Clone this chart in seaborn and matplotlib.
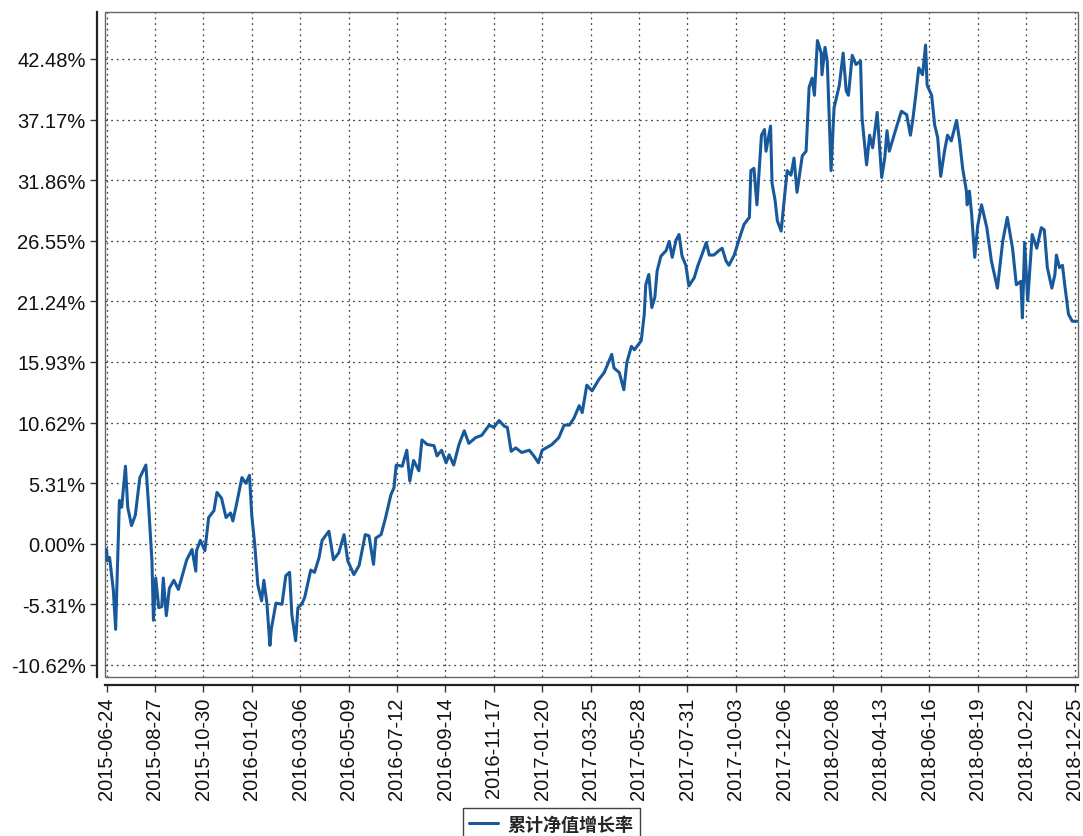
import numpy as np
import pandas as pd
import seaborn as sns
import matplotlib.pyplot as plt

# cumulative NAV growth (%)
dates = [
    "2015-06-24", "2015-06-25", "2015-06-28", "2015-07-03", "2015-07-06", "2015-07-09",
    "2015-07-11", "2015-07-14", "2015-07-19", "2015-07-22", "2015-07-27", "2015-08-01",
    "2015-08-07", "2015-08-15", "2015-08-19", "2015-08-23", "2015-08-25", "2015-08-28",
    "2015-09-01", "2015-09-05", "2015-09-07", "2015-09-11", "2015-09-15", "2015-09-21",
    "2015-09-27", "2015-10-08", "2015-10-15", "2015-10-20", "2015-10-21", "2015-10-26",
    "2015-11-01", "2015-11-06", "2015-11-13", "2015-11-17", "2015-11-23", "2015-11-29",
    "2015-12-05", "2015-12-08", "2015-12-12", "2015-12-20", "2015-12-25", "2015-12-30",
    "2016-01-02", "2016-01-06", "2016-01-10", "2016-01-15", "2016-01-18", "2016-01-22",
    "2016-01-26", "2016-01-28", "2016-02-03", "2016-02-11", "2016-02-16", "2016-02-21",
    "2016-02-24", "2016-02-29", "2016-03-03", "2016-03-08", "2016-03-12", "2016-03-20",
    "2016-03-25", "2016-03-31", "2016-04-04", "2016-04-13", "2016-04-19", "2016-04-26",
    "2016-05-03", "2016-05-08", "2016-05-16", "2016-05-23", "2016-05-31", "2016-06-05",
    "2016-06-11", "2016-06-14", "2016-06-21", "2016-06-27", "2016-07-04", "2016-07-08",
    "2016-07-11", "2016-07-19", "2016-07-25", "2016-07-29", "2016-08-03", "2016-08-10",
    "2016-08-14", "2016-08-21", "2016-08-30", "2016-09-03", "2016-09-09", "2016-09-15",
    "2016-09-19", "2016-09-25", "2016-10-02", "2016-10-09", "2016-10-15", "2016-10-24",
    "2016-11-01", "2016-11-11", "2016-11-17", "2016-11-24", "2016-12-01", "2016-12-05",
    "2016-12-10", "2016-12-16", "2016-12-24", "2017-01-03", "2017-01-09", "2017-01-15",
    "2017-01-20", "2017-02-02", "2017-02-11", "2017-02-18", "2017-02-25", "2017-03-03",
    "2017-03-10", "2017-03-14", "2017-03-20", "2017-03-27", "2017-04-05", "2017-04-12",
    "2017-04-19", "2017-04-22", "2017-04-25", "2017-05-02", "2017-05-08", "2017-05-12",
    "2017-05-18", "2017-05-22", "2017-05-31", "2017-06-04", "2017-06-06", "2017-06-10",
    "2017-06-14", "2017-06-18", "2017-06-21", "2017-06-26", "2017-07-03", "2017-07-07",
    "2017-07-11", "2017-07-16", "2017-07-20", "2017-07-24", "2017-07-29", "2017-08-02",
    "2017-08-09", "2017-08-14", "2017-08-18", "2017-08-25", "2017-08-29", "2017-09-04",
    "2017-09-11", "2017-09-15", "2017-09-20", "2017-09-24", "2017-10-01", "2017-10-08",
    "2017-10-14", "2017-10-21", "2017-10-23", "2017-10-27", "2017-10-31", "2017-11-06",
    "2017-11-10", "2017-11-12", "2017-11-18", "2017-11-20", "2017-11-24", "2017-11-27",
    "2017-12-02", "2017-12-06", "2017-12-10", "2017-12-15", "2017-12-19", "2017-12-23",
    "2017-12-30", "2018-01-04", "2018-01-08", "2018-01-12", "2018-01-15", "2018-01-19",
    "2018-01-24", "2018-01-25", "2018-01-29", "2018-02-01", "2018-02-04", "2018-02-06",
    "2018-02-10", "2018-02-17", "2018-02-22", "2018-02-26", "2018-03-01", "2018-03-06",
    "2018-03-11", "2018-03-17", "2018-03-19", "2018-03-25", "2018-03-29", "2018-04-02",
    "2018-04-08", "2018-04-14", "2018-04-18", "2018-04-21", "2018-04-24", "2018-05-03",
    "2018-05-10", "2018-05-17", "2018-05-22", "2018-05-25", "2018-05-29", "2018-06-02",
    "2018-06-07", "2018-06-11", "2018-06-13", "2018-06-19", "2018-06-23", "2018-06-27",
    "2018-07-01", "2018-07-06", "2018-07-10", "2018-07-15", "2018-07-22", "2018-07-26",
    "2018-07-30", "2018-08-04", "2018-08-05", "2018-08-08", "2018-08-11", "2018-08-15",
    "2018-08-19", "2018-08-24", "2018-08-31", "2018-09-06", "2018-09-14", "2018-09-21",
    "2018-09-27", "2018-10-04", "2018-10-09", "2018-10-15", "2018-10-17", "2018-10-20",
    "2018-10-24", "2018-10-30", "2018-11-05", "2018-11-11", "2018-11-15", "2018-11-19",
    "2018-11-25", "2018-11-29", "2018-12-01", "2018-12-05", "2018-12-09", "2018-12-12",
    "2018-12-17", "2018-12-22", "2018-12-28",
]
growth = [
    -0.5, -1.5, -1.2, -4.1, -7.5, -0.6,
    3.8, 3.2, 6.8, 3.2, 1.6, 2.5,
    5.8, 6.9, 2.9, -1.5, -6.7, -3.0,
    -5.6, -5.5, -3.0, -6.3, -3.9, -3.2,
    -4.0, -1.4, -0.5, -2.4, -0.6, 0.3,
    -0.6, 2.3, 2.9, 4.5, 4.0, 2.3,
    2.7, 2.0, 3.2, 5.8, 5.3, 6.0,
    2.5, -0.1, -3.6, -5.0, -3.2, -5.2,
    -8.9, -7.4, -5.2, -5.3, -2.8, -2.5,
    -6.2, -8.5, -5.6, -5.3, -4.7, -2.3,
    -2.5, -1.2, 0.3, 1.1, -1.4, -0.8,
    0.8, -1.5, -2.7, -1.9, 0.8, 0.7,
    -1.8, 0.5, 0.8, 2.3, 4.3, 4.9,
    6.9, 6.8, 8.2, 5.5, 7.3, 6.4,
    9.1, 8.7, 8.6, 7.7, 8.2, 7.1,
    7.8, 6.9, 8.7, 9.9, 8.8, 9.3,
    9.5, 10.4, 10.2, 10.8, 10.3, 10.2,
    8.1, 8.4, 8.0, 8.2, 7.7, 7.1,
    8.2, 8.7, 9.3, 10.4, 10.4, 11.0,
    12.1, 11.5, 13.9, 13.4, 14.4, 15.0,
    16.1, 16.6, 15.4, 15.0, 13.5, 15.9,
    17.3, 17.0, 17.8, 20.1, 22.7, 23.6,
    20.7, 21.6, 23.9, 25.2, 25.7, 26.5,
    25.1, 26.6, 27.1, 25.2, 24.4, 22.6,
    23.3, 24.4, 25.1, 26.4, 25.3, 25.3,
    25.7, 25.9, 24.8, 24.4, 25.3, 26.8,
    28.0, 28.6, 32.7, 32.9, 29.7, 35.8,
    36.3, 34.4, 36.6, 31.6, 30.1, 28.3,
    27.4, 30.1, 32.7, 32.3, 33.8, 30.8,
    34.0, 34.4, 40.0, 40.8, 39.3, 44.1,
    43.0, 41.1, 43.5, 42.3, 36.4, 32.7,
    38.2, 40.2, 43.0, 39.7, 39.3, 42.8,
    42.0, 42.3, 37.3, 33.2, 35.8, 34.7,
    37.8, 32.1, 33.8, 36.2, 34.4, 36.4,
    37.9, 37.6, 35.8, 37.1, 39.3, 41.7,
    41.1, 43.7, 40.2, 39.3, 36.7, 35.6,
    32.2, 34.4, 35.8, 35.3, 37.1, 35.3,
    32.9, 30.9, 29.7, 30.9, 28.8, 25.1,
    27.9, 29.7, 27.7, 24.8, 22.4, 26.5,
    28.6, 25.9, 22.7, 23.0, 19.8, 26.4,
    21.3, 27.1, 25.9, 27.7, 27.5, 24.2,
    22.4, 23.6, 25.3, 24.2, 24.4, 22.7,
    20.1, 19.5, 19.5,
]

x_ticks = ["2015-06-24", "2015-08-27", "2015-10-30", "2016-01-02", "2016-03-06",
           "2016-05-09", "2016-07-12", "2016-09-14", "2016-11-17", "2017-01-20",
           "2017-03-25", "2017-05-28", "2017-07-31", "2017-10-03", "2017-12-06",
           "2018-02-08", "2018-04-13", "2018-06-16", "2018-08-19", "2018-10-22",
           "2018-12-25"]
y_ticks = [-10.62, -5.31, 0.00, 5.31, 10.62, 15.93, 21.24, 26.55, 31.86, 37.17, 42.48]
series_name = "累计净值增长率"

df = pd.DataFrame({"date": pd.to_datetime(dates), "value": growth})

sns.set_style("white")
plt.rcParams["font.family"] = ["Liberation Sans", "Noto Sans CJK SC", "DejaVu Sans"]

fig = plt.figure(figsize=(10.83, 8.37), dpi=100)
ax = fig.add_axes([0.097, 0.19, 0.898, 0.7945])

sns.lineplot(data=df, x="date", y="value", ax=ax, color="#17599b", lw=2.2,
             label=series_name, legend=False)

ax.set_xlim(pd.Timestamp("2015-06-22"), pd.Timestamp("2018-12-29"))
ax.set_ylim(-11.67, 46.6)

ax.set_xticks(pd.to_datetime(x_ticks))
ax.set_xticklabels(x_ticks)
ax.set_yticks(y_ticks)
ax.set_yticklabels(["{:.2f}%".format(v) for v in y_ticks])
ax.set_xlabel("")
ax.set_ylabel("")

ax.grid(True, color="#444444", linestyle=(0, (1.5, 3)), linewidth=0.9)
ax.tick_params(axis="both", direction="out", length=5, width=1, color="#333333",
               left=True, bottom=True, pad=3, labelcolor="#111111", labelsize=14.5)
ax.tick_params(axis="x", labelrotation=90)

# frame around the plot area, axis lines pushed a little outward
ax.patch.set_edgecolor("#666666")
ax.patch.set_linewidth(1.0)
for side in ["top", "right"]:
    ax.spines[side].set_visible(False)
for side in ["left", "bottom"]:
    ax.spines[side].set_position(("outward", 6))
    ax.spines[side].set_color("#222222")
    ax.spines[side].set_linewidth(1.6)

handles, labels = ax.get_legend_handles_labels()
fig.legend(handles, labels, loc="upper center", bbox_to_anchor=(0.509, 0.033),
           borderaxespad=0, frameon=True, fancybox=False, edgecolor="#111111",
           handlelength=1.6, handletextpad=0.5, borderpad=0.35,
           prop={"family": ["Noto Sans CJK SC", "DejaVu Sans"], "weight": "bold", "size": 13})

fig.savefig("out.png", dpi=100)
